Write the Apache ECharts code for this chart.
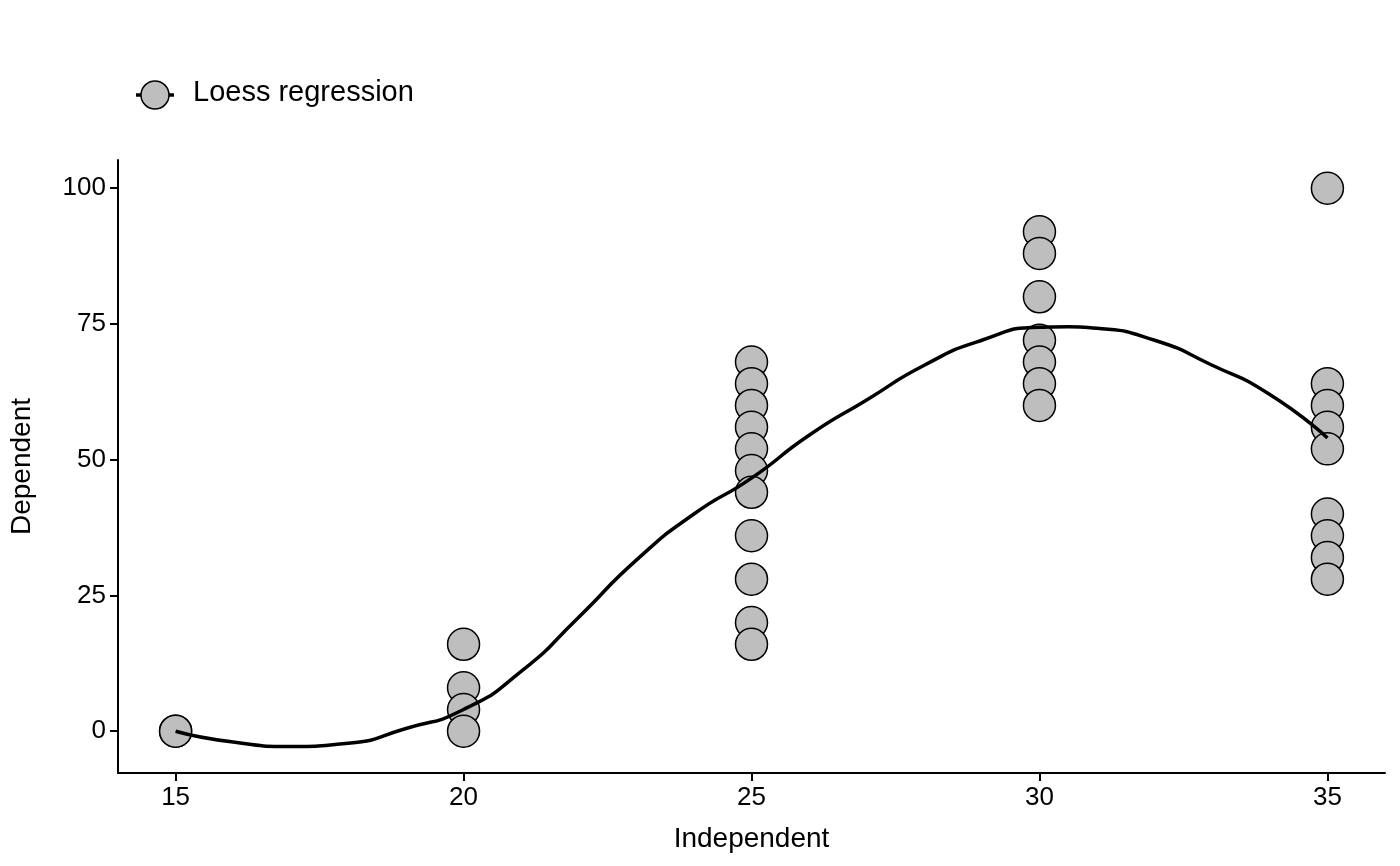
<!DOCTYPE html>
<html><head><meta charset="utf-8">
<script src="https://cdn.jsdelivr.net/npm/echarts@6/dist/echarts.min.js"></script>
<style>html,body{margin:0;padding:0;background:#fff}#c{width:1400px;height:866px}</style>
</head><body><div id="c"></div>
<script>
const xTicks = [15, 20, 25, 30, 35];
const yTicks = [0, 25, 50, 75, 100];
const pointsX = [15,15,20,20,20,20,25,25,25,25,25,25,25,25,25,25,25,30,30,30,30,30,30,30,35,35,35,35,35,35,35,35,35];
const pointsY = [0,0,16,8,4,0,68,64,60,56,52,48,44,36,28,20,16,92,88,80,72,68,64,60,100,64,60,56,52,40,36,32,28];
const curveX = [15,16,17,18,19,20,21,22,23,24,25,26,27,28,29,30,30.5,31,32,33,34,35];
const curveY = [0,-2,-2.8,-2.2,0.5,4,11,21,31.5,40,46.6,54.5,61,67.4,72,74.4,74.5,74.2,72,67.4,62,54];
const font = 'Arial, Liberation Sans, sans-serif';
const chart = echarts.init(document.getElementById('c'));
chart.setOption({
  animation:false,
  grid:{left:117,right:15,top:160,bottom:93},
  xAxis:{type:'value',min:14,max:36,name:'Independent',nameLocation:'middle',nameGap:52,
    nameTextStyle:{fontSize:28,color:'#000',fontFamily:font},
    axisLine:{onZero:false,lineStyle:{color:'#000',width:2}},
    axisTick:{customValues:xTicks,length:8,lineStyle:{color:'#000',width:2}},
    axisLabel:{customValues:xTicks,fontSize:26,color:'#000',fontFamily:font,margin:12},
    splitLine:{show:false}},
  yAxis:{type:'value',min:-7.7,max:105.2,name:'Dependent',nameLocation:'middle',nameGap:82,
    nameTextStyle:{fontSize:28,color:'#000',fontFamily:font},
    axisLine:{show:true,onZero:false,lineStyle:{color:'#000',width:2}},
    axisTick:{show:true,customValues:yTicks,length:8,lineStyle:{color:'#000',width:2}},
    axisLabel:{customValues:yTicks,fontSize:26,color:'#000',fontFamily:font,margin:12},
    splitLine:{show:false}},
  graphic:[
    {type:'line',shape:{x1:136,y1:95,x2:174,y2:95},style:{stroke:'#000',lineWidth:3.5}},
    {type:'circle',shape:{cx:155,cy:95,r:14},style:{fill:'#bebebe',stroke:'#000',lineWidth:1.5}},
    {type:'text',left:193,top:78,style:{text:'Loess regression',fontSize:29,fill:'#000',fontFamily:font}}
  ],
  series:[
    {type:'line',smooth:0.6,symbol:'none',data:curveX.map((x,i)=>[x,curveY[i]]),
      lineStyle:{color:'#000',width:3.5},z:3},
    {type:'scatter',symbolSize:32,data:pointsX.map((x,i)=>[x,pointsY[i]]),
      itemStyle:{color:'#bebebe',borderColor:'#000',borderWidth:1.5,opacity:1},z:2}
  ]
});
</script></body></html>
